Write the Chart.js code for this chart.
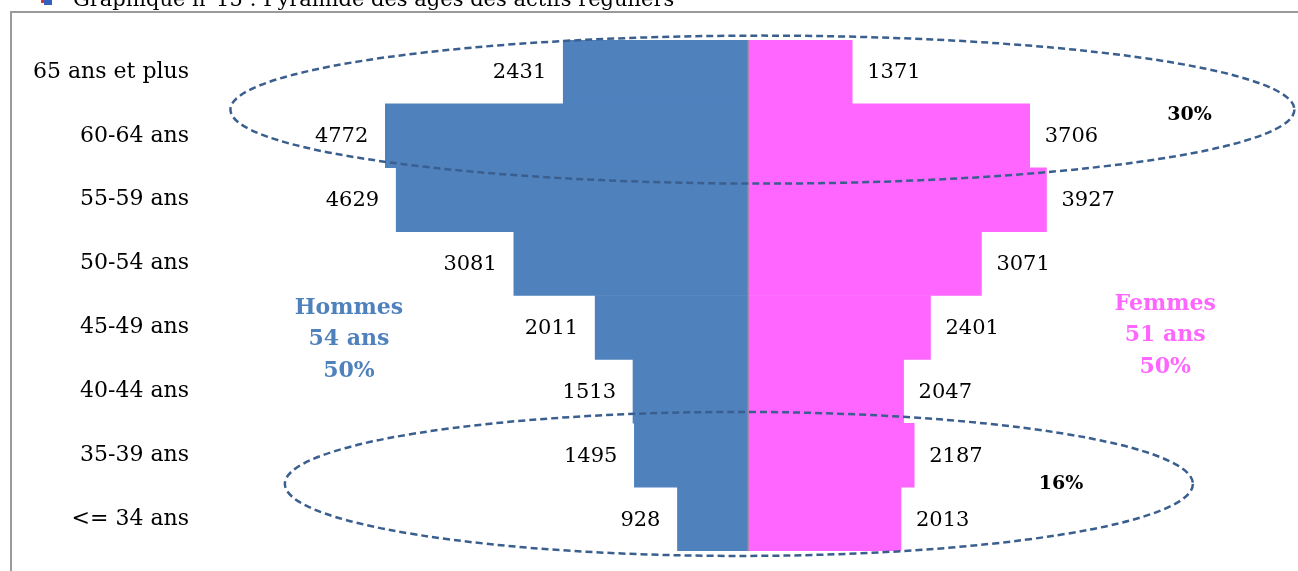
<!DOCTYPE html>
<html>
<head>
<meta charset="utf-8">
<script src="https://cdn.jsdelivr.net/npm/chart.js@4"></script>
<style>
  body { margin: 0; background: #fff; }
  canvas { display: block; }
</style>
</head>
<body>
<canvas id="pyramide" width="1298" height="571"></canvas>
<script>
// tranches d'age, de haut en bas
const categories = ["65 ans et plus", "60-64 ans", "55-59 ans", "50-54 ans", "45-49 ans", "40-44 ans", "35-39 ans", "<= 34 ans"];
const hommes = [2431, 4772, 4629, 3081, 2011, 1513, 1495, 928];
const femmes = [1371, 3706, 3927, 3071, 2401, 2047, 2187, 2013];
const xLimit = 7000;

const titre = "Graphique n°15 : Pyramide des âges des actifs réguliers";
const noteHommes = ["Hommes", "54 ans", "50%"];
const noteFemmes = ["Femmes", "51 ans", "50%"];
const partHaut = "30%";
const partBas = "16%";

const BLUE = "#4F81BD";
const PINK = "#FF66FF";
const SERIF = "'DejaVu Serif', serif";

// etiquettes, ellipses et textes en plus
const extras = {
    id: "extras",
    afterDatasetsDraw(chart) {
        const ctx = chart.ctx;
        const x = chart.scales.x, y = chart.scales.y;
        ctx.save();

        // valeurs au bout des barres
        ctx.font = "21px " + SERIF;
        ctx.fillStyle = "#000";
        ctx.textBaseline = "middle";
        chart.getDatasetMeta(0).data.forEach((bar, i) => {
            ctx.textAlign = "right";
            ctx.fillText(String(hommes[i]), bar.x - 17, bar.y + 1);
        });
        chart.getDatasetMeta(1).data.forEach((bar, i) => {
            ctx.textAlign = "left";
            ctx.fillText(String(femmes[i]), bar.x + 15, bar.y + 1);
        });

        // ellipses pointillees
        ctx.strokeStyle = "#3A5F8F";
        ctx.lineWidth = 2.5;
        ctx.setLineDash([7, 4]);
        ctx.beginPath();
        ctx.ellipse(x.getPixelForValue(190), y.getPixelForValue(0.59), 532, 74, 0, 0, Math.PI * 2);
        ctx.stroke();
        ctx.beginPath();
        ctx.ellipse(x.getPixelForValue(-120), y.getPixelForValue(6.45), 454, 72, 0, 0, Math.PI * 2);
        ctx.stroke();
        ctx.setLineDash([]);

        // Hommes / Femmes
        ctx.textAlign = "center";
        ctx.font = "bold 22px " + SERIF;
        ctx.fillStyle = BLUE;
        noteHommes.forEach((t, i) => {
            ctx.fillText(t, x.getPixelForValue(-5250), y.getPixelForValue(3.7) + i * 31.5);
        });
        ctx.fillStyle = PINK;
        noteFemmes.forEach((t, i) => {
            ctx.fillText(t, x.getPixelForValue(5490), y.getPixelForValue(3.63) + i * 31.5);
        });

        ctx.fillStyle = "#000";
        ctx.font = "bold 19px " + SERIF;
        ctx.fillText(partHaut, x.getPixelForValue(5810), y.getPixelForValue(0.68));
        ctx.fillText(partBas, x.getPixelForValue(4120), y.getPixelForValue(6.45));
        ctx.restore();
    },
    afterDraw(chart) {
        const ctx = chart.ctx;
        ctx.save();
        // cadre
        ctx.strokeStyle = "#9a9a9a";
        ctx.lineWidth = 2;
        ctx.beginPath();
        ctx.moveTo(11, 571);
        ctx.lineTo(11, 12);
        ctx.lineTo(1298, 12);
        ctx.stroke();
        // titre coupe en haut
        ctx.fillStyle = "#3060c0";
        ctx.fillRect(44, 0, 8, 5);
        ctx.fillStyle = "#e03030";
        ctx.fillRect(41, 0, 3, 3);
        ctx.fillStyle = "#000";
        ctx.font = "21px " + SERIF;
        ctx.textAlign = "left";
        ctx.textBaseline = "alphabetic";
        ctx.fillText(titre, 73, 6);
        ctx.restore();
    }
};

new Chart(document.getElementById("pyramide"), {
    type: "bar",
    data: {
        labels: categories,
        datasets: [
            {
                label: "Hommes",
                data: hommes.map(v => -v),
                backgroundColor: BLUE,
                borderWidth: 0,
                barPercentage: 1,
                categoryPercentage: 1
            },
            {
                label: "Femmes",
                data: femmes,
                backgroundColor: PINK,
                borderWidth: 0,
                barPercentage: 1,
                categoryPercentage: 1
            }
        ]
    },
    options: {
        indexAxis: "y",
        responsive: false,
        animation: false,
        devicePixelRatio: 1,
        layout: { padding: { left: 0, right: 18, top: 40, bottom: 20 } },
        plugins: { legend: { display: false }, tooltip: { enabled: false } },
        scales: {
            x: {
                stacked: true,
                min: -xLimit,
                max: xLimit,
                z: 1,
                ticks: { display: false, stepSize: 1000 },
                grid: {
                    drawTicks: false,
                    lineWidth: 2,
                    color: c => (c.tick && c.tick.value === 0) ? "#8c918c" : "rgba(0,0,0,0)"
                },
                border: { display: false },
                afterFit(scale) { scale.height = 0; }
            },
            y: {
                stacked: true,
                grid: { display: false, drawTicks: false },
                border: { display: false },
                ticks: { padding: 27, color: "#000", font: { family: "DejaVu Serif", size: 22 } },
                afterFit(scale) {
                    scale.width = 216;
                    scale.paddingTop = 0;
                    scale.paddingBottom = 0;
                }
            }
        }
    },
    plugins: [extras]
});
</script>
</body>
</html>
